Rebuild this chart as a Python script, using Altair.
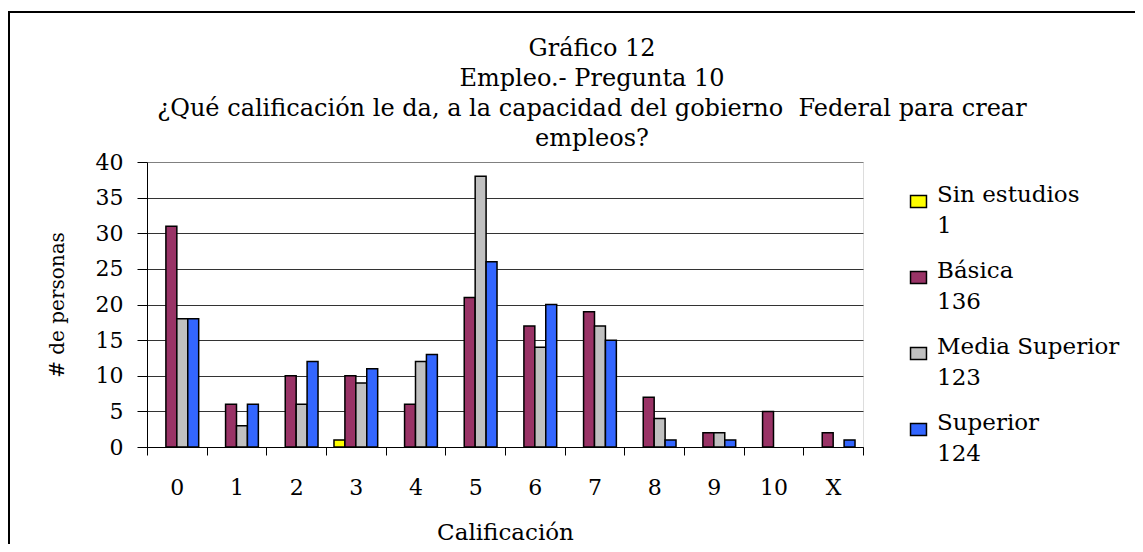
import altair as alt
import pandas as pd

categorias = ["0", "1", "2", "3", "4", "5", "6", "7", "8", "9", "10", "X"]
series = ["Sin estudios", "Básica", "Media Superior", "Superior"]
totales = [1, 136, 123, 124]
colores = ["#FFFF00", "#993366", "#C0C0C0", "#3366FF"]

sin_estudios = [0, 0, 0, 1, 0, 0, 0, 0, 0, 0, 0, 0]
basica = [31, 6, 10, 10, 6, 21, 17, 19, 7, 2, 5, 2]
media_superior = [18, 3, 6, 9, 12, 38, 14, 17, 4, 2, 0, 0]
superior = [18, 6, 12, 11, 13, 26, 20, 15, 1, 1, 0, 1]

valores = [sin_estudios, basica, media_superior, superior]
nombres = [f"{s}|{t}" for s, t in zip(series, totales)]

rows = []
for nombre, vals in zip(nombres, valores):
    for c, v in zip(categorias, vals):
        rows.append({"cat": c, "serie": nombre, "valor": v})
df = pd.DataFrame(rows)

FONT = "DejaVu Serif"
W, H = 716, 285

bars = alt.Chart(df).transform_filter("datum.valor > 0").mark_bar(
    stroke="black", strokeWidth=1.5
).encode(
    x=alt.X("cat:N", sort=categorias,
            scale=alt.Scale(domain=categorias, paddingInner=0, paddingOuter=0),
            axis=alt.Axis(title="Calificación", labelAngle=0, tickBand="extent",
                          tickSize=8, tickColor="black", domainColor="black",
                          labelFontSize=22, labelFont=FONT, labelColor="black",
                          labelPadding=22,
                          titleFont=FONT, titleFontSize=23, titleFontWeight="normal",
                          titleColor="black", titleX=W / 2, titleY=85,
                          titleBaseline="middle", titleAlign="center")),
    xOffset=alt.XOffset("serie:N", sort=nombres,
                        scale=alt.Scale(domain=nombres, paddingInner=0, paddingOuter=0.73)),
    y=alt.Y("valor:Q", scale=alt.Scale(domain=[0, 40], nice=False),
            axis=alt.Axis(title="# de personas", values=list(range(0, 41, 5)),
                          tickSize=10, tickColor="black", domainColor="black",
                          labelFontSize=22, labelFont=FONT, labelColor="black",
                          labelPadding=14,
                          grid=True,
                          gridColor={"condition": {"test": "datum.value == 40", "value": "#808080"},
                                     "value": "#333333"},
                          titleFont=FONT, titleFontSize=20, titleFontWeight="normal",
                          titleColor="black", titleX=-90, titleY=H / 2,
                          titleAngle=270, titleBaseline="middle", titleAlign="center")),
    fill=alt.Fill("serie:N", sort=nombres,
                  scale=alt.Scale(domain=nombres, range=colores),
                  legend=alt.Legend(title=None, orient="none", legendX=760, legendY=28,
                                    labelExpr="split(datum.label, '|')",
                                    labelFont=FONT, labelFontSize=23, labelColor="black",
                                    labelBaseline="alphabetic", labelOffset=7,
                                    labelLimit=300,
                                    symbolType="M-1.33,-1H1.33V1H-1.33Z", symbolSize=144,
                                    symbolStrokeColor="black", symbolStrokeWidth=1.5,
                                    symbolOpacity=1, rowPadding=21)),
)

frame_df = pd.DataFrame({"a": [0]})
frame = alt.Chart(frame_df).mark_rect(fill=None, stroke="black", strokeWidth=2).encode(
    x=alt.value(-138), x2=alt.value(1200), y=alt.value(-150), y2=alt.value(700)
)

chart = alt.layer(bars, frame).properties(
    width=W, height=H,
    autosize=alt.AutoSizeParams(type="none"),
    padding={"left": 139, "top": 154, "right": 272, "bottom": 97},
    title=alt.TitleParams(
        text=["Gráfico 12", "Empleo.- Pregunta 10",
              "¿Qué calificación le da, a la capacidad del gobierno\u00a0 Federal para crear",
              "empleos?"],
        font=FONT, fontSize=24, fontWeight="normal", color="black",
        lineHeight=30, anchor="middle", dx=87, offset=0, dy=140),
).configure_view(
    stroke="#808080", strokeWidth=1.5
).configure(
    background="white",
    style={"guide-label": {"lineHeight": 31}}
)

chart.save("out.html", embed_options={"renderer": "svg", "actions": False})
